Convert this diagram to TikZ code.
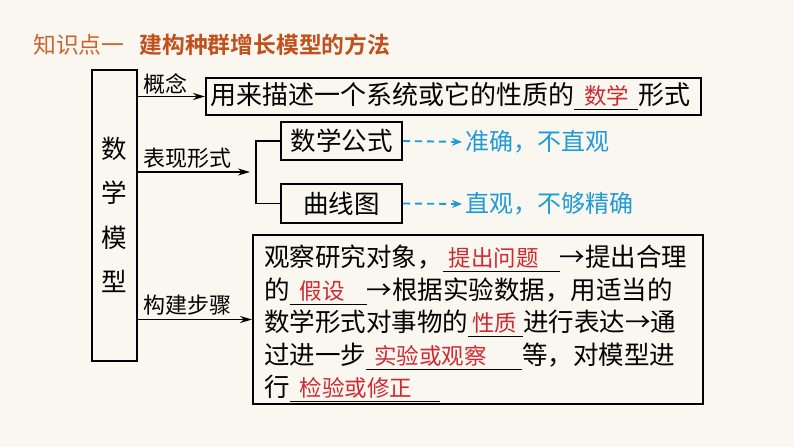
\documentclass[tikz,border=0pt]{standalone}
\usepackage{fontspec}
\newfontfamily\cjk[BoldFont={Noto Sans CJK SC Bold}]{Noto Sans CJK SC}
\usetikzlibrary{arrows.meta,positioning}

\definecolor{paper}{HTML}{FAF7F1}
\definecolor{titleorange}{HTML}{C8662E}
\definecolor{headorange}{HTML}{C2501C}
\definecolor{fillred}{HTML}{D02A30}
\definecolor{noteblue}{HTML}{1E9BD7}

% underlined blank with the red answer in it
\newcommand\blank[3][8pt]{\makebox[#2][l]{\rlap{\rule[-0.22em]{#2}{1pt}}\hspace{#1}{\color{fillred}\fontsize{22.5}{22.5}\selectfont #3}}}

\begin{document}
\begin{tikzpicture}[x=1pt, y=-1pt,
    frame/.style={draw, line width=2pt, inner sep=0pt, font=\cjk\fontsize{25.5}{32.5}\selectfont},
    link/.style={line width=1.7pt, -{Stealth[length=12pt,width=7pt]}},
    tag/.style={font=\cjk\fontsize{22}{22}\selectfont, inner sep=1pt},
    note/.style={font=\cjk\fontsize{24}{24}\selectfont, text=noteblue, inner sep=0pt},
    dasharrow/.style={noteblue, line width=1.9pt, dash pattern=on 7pt off 5pt, -{Stealth[length=10pt,width=8pt]}},
]
\fill[paper] (0,0) rectangle (794,447);
\useasboundingbox (0,0) rectangle (794,447);

\node[anchor=west, inner sep=0pt, font=\cjk\fontsize{22.8}{22.8}\selectfont, text=titleorange] (title) at (33,45)
    {知识点一\hspace{15pt}{\bfseries\color{headorange}建构种群增长模型的方法}};

\node[frame, minimum width=45, minimum height=291, align=center, font=\cjk\fontsize{25.5}{44.5}\selectfont] (model) at (114.5,215) {数\\学\\模\\型};

\node[frame, anchor=west, minimum height=37, text width=487, inner xsep=4pt, align=left, font=\cjk\fontsize{26}{26}\selectfont] (concept) at (205,96.5)
    {用来描述一个系统或它的性质的\blank[10pt]{64pt}{数学}形式};

\node[frame, minimum width=121, minimum height=38] (formula) at (341.5,141) {数学公式};
\node[frame, minimum width=121, minimum height=39] (curve) at (341.5,203.5) {曲线图};
\coordinate (fork) at (256,172);

\node[frame, anchor=north west, minimum height=169, text width=428, inner xsep=11pt, align=left] (steps) at (252,234)
    {\rule{0pt}{30pt}观察研究对象，\blank[6pt]{117pt}{提出问题}→提出合理\\
     的\blank[10pt]{77pt}{假设}→根据实验数据，用适当的\\
     数学形式对事物的\blank[4pt]{55pt}{性质}进行表达→通\\
     过进一步\blank{156pt}{实验或观察}等，对模型进\\
     行\blank[10pt]{150pt}{检验或修正}};

\node[note, anchor=west] (note1) at (465,142) {准确，不直观};
\node[note, anchor=west] (note2) at (465,204) {直观，不够精确};

% connectors
\draw[link] (model.east |- concept.west) -- (concept.west)
    node[tag, pos=0, above right, xshift=4pt] {概念};
\draw[link, shorten >=6pt] (model.east |- fork) -- (fork)
    node[tag, pos=0, above right, xshift=4pt, yshift=2pt] {表现形式};
\draw[line width=1.7pt] (formula.west) -| (fork) |- (curve.west);
\draw[link] (model.east |- steps.west) -- (steps.west)
    node[tag, pos=0, above right, xshift=4pt, yshift=2pt] {构建步骤};
\draw[dasharrow, shorten >=3pt] (formula.east) -- (note1.west);
\draw[dasharrow, shorten >=3pt] (curve.east) -- (note2.west);
\end{tikzpicture}
\end{document}
